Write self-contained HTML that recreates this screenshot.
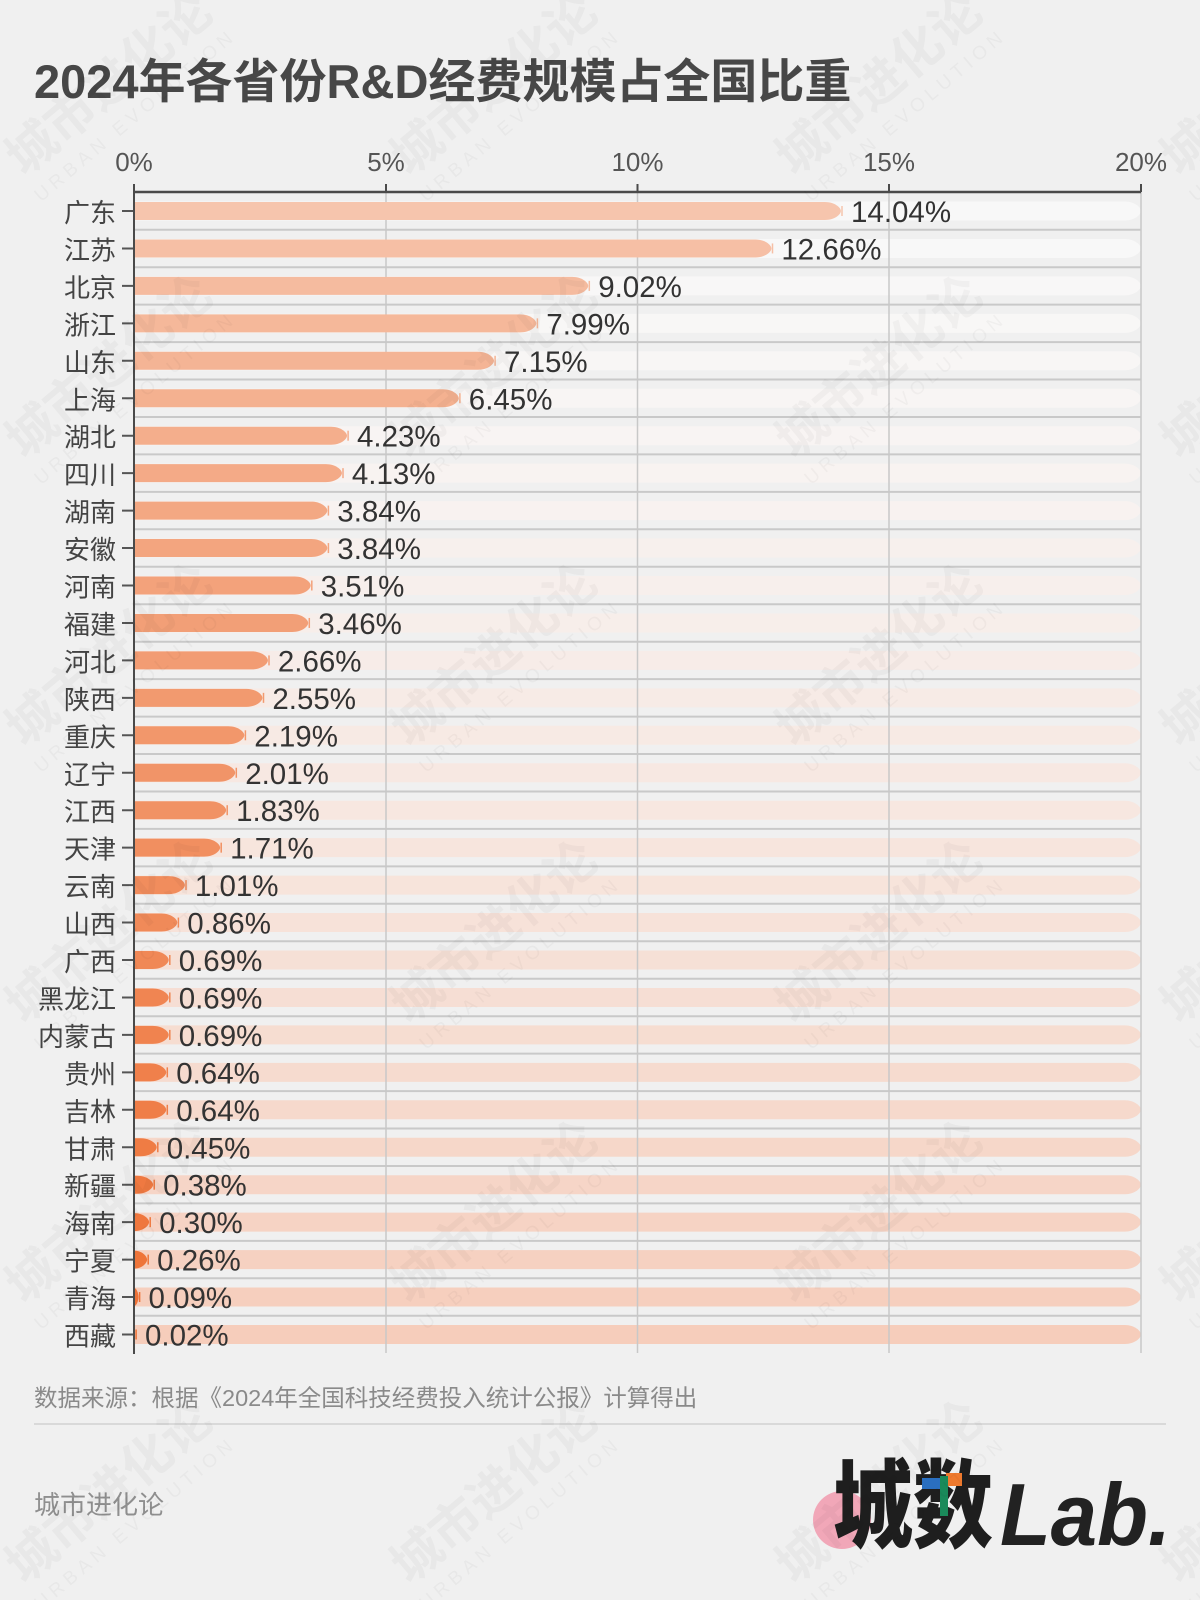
<!DOCTYPE html>
<html>
<head>
<meta charset="utf-8">
<style>
html,body{margin:0;padding:0;background:#f0f0f0;}
svg{display:block;}
</style>
</head>
<body>
<svg xmlns="http://www.w3.org/2000/svg" width="1200" height="1600" viewBox="0 0 1200 1600">
<defs>
<path id="trk" d="M134 -9.5H1125C1134.6 -9.5 1141 -3.5 1141 0C1141 3.5 1134.6 9.5 1125 9.5H134Z"/>
</defs>
<rect x="0" y="0" width="1200" height="1600" fill="#f0f0f0"/>

<!-- Title -->
<text x="34" y="98" font-family="Liberation Sans, Noto Sans CJK SC, sans-serif" font-size="47" font-weight="700" fill="#474747">2024年各省份R&amp;D经费规模占全国比重</text>

<!-- Tick labels -->
<g font-family="Liberation Sans, sans-serif" font-size="26" fill="#555" text-anchor="middle">
<text x="134" y="171">0%</text>
<text x="386" y="171">5%</text>
<text x="637.5" y="171">10%</text>
<text x="889" y="171">15%</text>
<text x="1141" y="171">20%</text>
</g>

<g transform="translate(0,1)">
<!-- Tracks -->
<use href="#trk" transform="translate(0,210)" fill="#f8f8f8"/>
<use href="#trk" transform="translate(0,247.45)" fill="#f8f8f8"/>
<use href="#trk" transform="translate(0,284.9)" fill="#f8f7f7"/>
<use href="#trk" transform="translate(0,322.35)" fill="#f8f7f6"/>
<use href="#trk" transform="translate(0,359.8)" fill="#f8f6f5"/>
<use href="#trk" transform="translate(0,397.25)" fill="#f8f5f4"/>
<use href="#trk" transform="translate(0,434.7)" fill="#f8f4f3"/>
<use href="#trk" transform="translate(0,472.15)" fill="#f8f3f1"/>
<use href="#trk" transform="translate(0,509.6)" fill="#f8f2f0"/>
<use href="#trk" transform="translate(0,547.05)" fill="#f7f0ed"/>
<use href="#trk" transform="translate(0,584.5)" fill="#f7efec"/>
<use href="#trk" transform="translate(0,621.95)" fill="#f7eeea"/>
<use href="#trk" transform="translate(0,659.4)" fill="#f7ece8"/>
<use href="#trk" transform="translate(0,696.85)" fill="#f7ebe6"/>
<use href="#trk" transform="translate(0,734.3)" fill="#f7eae4"/>
<use href="#trk" transform="translate(0,771.75)" fill="#f7e8e2"/>
<use href="#trk" transform="translate(0,809.2)" fill="#f7e7e0"/>
<use href="#trk" transform="translate(0,846.65)" fill="#f7e5dd"/>
<use href="#trk" transform="translate(0,884.1)" fill="#f7e4db"/>
<use href="#trk" transform="translate(0,921.55)" fill="#f7e2d9"/>
<use href="#trk" transform="translate(0,959)" fill="#f6e0d6"/>
<use href="#trk" transform="translate(0,996.45)" fill="#f6ded4"/>
<use href="#trk" transform="translate(0,1033.9)" fill="#f6ddd1"/>
<use href="#trk" transform="translate(0,1071.35)" fill="#f6dbcf"/>
<use href="#trk" transform="translate(0,1108.8)" fill="#f6d9cc"/>
<use href="#trk" transform="translate(0,1146.25)" fill="#f6d7c9"/>
<use href="#trk" transform="translate(0,1183.7)" fill="#f6d5c7"/>
<use href="#trk" transform="translate(0,1221.15)" fill="#f6d3c4"/>
<use href="#trk" transform="translate(0,1258.6)" fill="#f6d1c1"/>
<use href="#trk" transform="translate(0,1296.05)" fill="#f6cfbe"/>
<use href="#trk" transform="translate(0,1333.5)" fill="#f6cdbb"/>

<!-- Separators -->
<path d="M134 228.7H1141M134 266.2H1141M134 303.6H1141M134 341.1H1141M134 378.5H1141M134 416H1141M134 453.4H1141M134 490.9H1141M134 528.3H1141M134 565.8H1141M134 603.2H1141M134 640.7H1141M134 678.1H1141M134 715.6H1141M134 753H1141M134 790.5H1141M134 827.9H1141M134 865.4H1141M134 902.8H1141M134 940.3H1141M134 977.7H1141M134 1015.2H1141M134 1052.6H1141M134 1090.1H1141M134 1127.5H1141M134 1165H1141M134 1202.4H1141M134 1239.9H1141M134 1277.3H1141M134 1314.8H1141" stroke="#c9c9c9" stroke-width="2" fill="none"/>
</g>

<!-- Vertical gridlines -->
<path d="M386 192V1353M637.5 192V1353M889 192V1353M1141 192V1353" stroke="#c8c8c8" stroke-width="1.5" fill="none"/>

<g transform="translate(0,1)">
<!-- Bars -->
<g transform="translate(0,210)" fill="#f6c5ad" stroke="#f6c5ad"><path stroke="none" d="M134 -9H824.9C834.5 -9 840.9 -3.5 840.9 0C840.9 3.5 834.5 9 824.9 9H134Z"/><line x1="842" y1="-5" x2="842" y2="5" stroke-width="1.5"/></g>
<g transform="translate(0,247.45)" fill="#f6bfa5" stroke="#f6bfa5"><path stroke="none" d="M134 -9H755.4C765 -9 771.4 -3.5 771.4 0C771.4 3.5 765 9 755.4 9H134Z"/><line x1="772.5" y1="-5" x2="772.5" y2="5" stroke-width="1.5"/></g>
<g transform="translate(0,284.9)" fill="#f5bb9f" stroke="#f5bb9f"><path stroke="none" d="M134 -9H572.2C581.8 -9 588.2 -3.5 588.2 0C588.2 3.5 581.8 9 572.2 9H134Z"/><line x1="589.3" y1="-5" x2="589.3" y2="5" stroke-width="1.5"/></g>
<g transform="translate(0,322.35)" fill="#f5b89a" stroke="#f5b89a"><path stroke="none" d="M134 -9H520.3C529.9 -9 536.3 -3.5 536.3 0C536.3 3.5 529.9 9 520.3 9H134Z"/><line x1="537.4" y1="-5" x2="537.4" y2="5" stroke-width="1.5"/></g>
<g transform="translate(0,359.8)" fill="#f4b495" stroke="#f4b495"><path stroke="none" d="M134 -9H478C487.6 -9 494 -3.5 494 0C494 3.5 487.6 9 478 9H134Z"/><line x1="495.1" y1="-5" x2="495.1" y2="5" stroke-width="1.5"/></g>
<g transform="translate(0,397.25)" fill="#f4b190" stroke="#f4b190"><path stroke="none" d="M134 -9H442.8C452.4 -9 458.8 -3.5 458.8 0C458.8 3.5 452.4 9 442.8 9H134Z"/><line x1="459.9" y1="-5" x2="459.9" y2="5" stroke-width="1.5"/></g>
<g transform="translate(0,434.7)" fill="#f4ae8c" stroke="#f4ae8c"><path stroke="none" d="M134 -9H331C340.6 -9 347 -3.5 347 0C347 3.5 340.6 9 331 9H134Z"/><line x1="348.1" y1="-5" x2="348.1" y2="5" stroke-width="1.5"/></g>
<g transform="translate(0,472.15)" fill="#f4aa87" stroke="#f4aa87"><path stroke="none" d="M134 -9H325.9C335.5 -9 341.9 -3.5 341.9 0C341.9 3.5 335.5 9 325.9 9H134Z"/><line x1="343" y1="-5" x2="343" y2="5" stroke-width="1.5"/></g>
<g transform="translate(0,509.6)" fill="#f3a883" stroke="#f3a883"><path stroke="none" d="M134 -9H311.3C320.9 -9 327.3 -3.5 327.3 0C327.3 3.5 320.9 9 311.3 9H134Z"/><line x1="328.4" y1="-5" x2="328.4" y2="5" stroke-width="1.5"/></g>
<g transform="translate(0,547.05)" fill="#f3a57f" stroke="#f3a57f"><path stroke="none" d="M134 -9H311.3C320.9 -9 327.3 -3.5 327.3 0C327.3 3.5 320.9 9 311.3 9H134Z"/><line x1="328.4" y1="-5" x2="328.4" y2="5" stroke-width="1.5"/></g>
<g transform="translate(0,584.5)" fill="#f3a27b" stroke="#f3a27b"><path stroke="none" d="M134 -9H294.7C304.3 -9 310.7 -3.5 310.7 0C310.7 3.5 304.3 9 294.7 9H134Z"/><line x1="311.8" y1="-5" x2="311.8" y2="5" stroke-width="1.5"/></g>
<g transform="translate(0,621.95)" fill="#f29f77" stroke="#f29f77"><path stroke="none" d="M134 -9H292.2C301.8 -9 308.2 -3.5 308.2 0C308.2 3.5 301.8 9 292.2 9H134Z"/><line x1="309.3" y1="-5" x2="309.3" y2="5" stroke-width="1.5"/></g>
<g transform="translate(0,659.4)" fill="#f29c73" stroke="#f29c73"><path stroke="none" d="M134 -9H251.9C261.5 -9 267.9 -3.5 267.9 0C267.9 3.5 261.5 9 251.9 9H134Z"/><line x1="269" y1="-5" x2="269" y2="5" stroke-width="1.5"/></g>
<g transform="translate(0,696.85)" fill="#f29a6f" stroke="#f29a6f"><path stroke="none" d="M134 -9H246.4C256 -9 262.4 -3.5 262.4 0C262.4 3.5 256 9 246.4 9H134Z"/><line x1="263.5" y1="-5" x2="263.5" y2="5" stroke-width="1.5"/></g>
<g transform="translate(0,734.3)" fill="#f2976b" stroke="#f2976b"><path stroke="none" d="M134 -9H228.3C237.9 -9 244.3 -3.5 244.3 0C244.3 3.5 237.9 9 228.3 9H134Z"/><line x1="245.4" y1="-5" x2="245.4" y2="5" stroke-width="1.5"/></g>
<g transform="translate(0,771.75)" fill="#f19468" stroke="#f19468"><path stroke="none" d="M134 -9H219.2C228.8 -9 235.2 -3.5 235.2 0C235.2 3.5 228.8 9 219.2 9H134Z"/><line x1="236.3" y1="-5" x2="236.3" y2="5" stroke-width="1.5"/></g>
<g transform="translate(0,809.2)" fill="#f19264" stroke="#f19264"><path stroke="none" d="M134 -9H210.1C219.7 -9 226.1 -3.5 226.1 0C226.1 3.5 219.7 9 210.1 9H134Z"/><line x1="227.2" y1="-5" x2="227.2" y2="5" stroke-width="1.5"/></g>
<g transform="translate(0,846.65)" fill="#f18f60" stroke="#f18f60"><path stroke="none" d="M134 -9H204.1C213.7 -9 220.1 -3.5 220.1 0C220.1 3.5 213.7 9 204.1 9H134Z"/><line x1="221.2" y1="-5" x2="221.2" y2="5" stroke-width="1.5"/></g>
<g transform="translate(0,884.1)" fill="#f18d5d" stroke="#f18d5d"><path stroke="none" d="M134 -9H168.9C178.5 -9 184.9 -3.5 184.9 0C184.9 3.5 178.5 9 168.9 9H134Z"/><line x1="186" y1="-5" x2="186" y2="5" stroke-width="1.5"/></g>
<g transform="translate(0,921.55)" fill="#f08a59" stroke="#f08a59"><path stroke="none" d="M134 -9H161.3C170.9 -9 177.3 -3.5 177.3 0C177.3 3.5 170.9 9 161.3 9H134Z"/><line x1="178.4" y1="-5" x2="178.4" y2="5" stroke-width="1.5"/></g>
<g transform="translate(0,959)" fill="#f08856" stroke="#f08856"><path stroke="none" d="M134 -9H152.7C162.3 -9 168.7 -3.5 168.7 0C168.7 3.5 162.3 9 152.7 9H134Z"/><line x1="169.8" y1="-5" x2="169.8" y2="5" stroke-width="1.5"/></g>
<g transform="translate(0,996.45)" fill="#f08552" stroke="#f08552"><path stroke="none" d="M134 -9H152.7C162.3 -9 168.7 -3.5 168.7 0C168.7 3.5 162.3 9 152.7 9H134Z"/><line x1="169.8" y1="-5" x2="169.8" y2="5" stroke-width="1.5"/></g>
<g transform="translate(0,1033.9)" fill="#f0834f" stroke="#f0834f"><path stroke="none" d="M134 -9H152.7C162.3 -9 168.7 -3.5 168.7 0C168.7 3.5 162.3 9 152.7 9H134Z"/><line x1="169.8" y1="-5" x2="169.8" y2="5" stroke-width="1.5"/></g>
<g transform="translate(0,1071.35)" fill="#f0804b" stroke="#f0804b"><path stroke="none" d="M134 -9H150.2C159.8 -9 166.2 -3.5 166.2 0C166.2 3.5 159.8 9 150.2 9H134Z"/><line x1="167.3" y1="-5" x2="167.3" y2="5" stroke-width="1.5"/></g>
<g transform="translate(0,1108.8)" fill="#ef7e48" stroke="#ef7e48"><path stroke="none" d="M134 -9H150.2C159.8 -9 166.2 -3.5 166.2 0C166.2 3.5 159.8 9 150.2 9H134Z"/><line x1="167.3" y1="-5" x2="167.3" y2="5" stroke-width="1.5"/></g>
<g transform="translate(0,1146.25)" fill="#ef7c44" stroke="#ef7c44"><path stroke="none" d="M134 -9H140.7C150.3 -9 156.7 -3.5 156.7 0C156.7 3.5 150.3 9 140.7 9H134Z"/><line x1="157.8" y1="-5" x2="157.8" y2="5" stroke-width="1.5"/></g>
<g transform="translate(0,1183.7)" fill="#ef7941" stroke="#ef7941"><path stroke="none" d="M134 -9H137.1C146.7 -9 153.1 -3.5 153.1 0C153.1 3.5 146.7 9 137.1 9H134Z"/><line x1="154.2" y1="-5" x2="154.2" y2="5" stroke-width="1.5"/></g>
<g transform="translate(0,1221.15)" fill="#ef773e" stroke="#ef773e"><path stroke="none" d="M134 -9H134C143.1 -9 149.1 -3.5 149.1 0C149.1 3.5 143.1 9 134 9H134Z"/><line x1="150.2" y1="-5" x2="150.2" y2="5" stroke-width="1.5"/></g>
<g transform="translate(0,1258.6)" fill="#ee753a" stroke="#ee753a"><path stroke="none" d="M134 -9H134C141.9 -9 147.1 -3.5 147.1 0C147.1 3.5 141.9 9 134 9H134Z"/><line x1="148.2" y1="-5" x2="148.2" y2="5" stroke-width="1.5"/></g>
<g transform="translate(0,1296.05)" fill="#ee7237" stroke="#ee7237"><path stroke="none" d="M134 -9H134C136.7 -9 138.5 -3.5 138.5 0C138.5 3.5 136.7 9 134 9H134Z"/><line x1="139.6" y1="-5" x2="139.6" y2="5" stroke-width="1.5"/></g>
<g transform="translate(0,1333.5)" fill="#ee7034" stroke="#ee7034"><path stroke="none" d="M134 -9H134C134.6 -9 135 -3.5 135 0C135 3.5 134.6 9 134 9H134Z"/><line x1="136.1" y1="-5" x2="136.1" y2="5" stroke-width="1.5"/></g>

<!-- Value labels -->
<g font-family="Liberation Sans, sans-serif" font-size="29.5" fill="#333">
<text x="851" y="221">14.04%</text>
<text x="781.4" y="258.45">12.66%</text>
<text x="598.2" y="295.9">9.02%</text>
<text x="546.3" y="333.35">7.99%</text>
<text x="504" y="370.8">7.15%</text>
<text x="468.8" y="408.25">6.45%</text>
<text x="357" y="445.7">4.23%</text>
<text x="351.9" y="483.15">4.13%</text>
<text x="337.3" y="520.6">3.84%</text>
<text x="337.3" y="558.05">3.84%</text>
<text x="320.7" y="595.5">3.51%</text>
<text x="318.2" y="632.95">3.46%</text>
<text x="277.9" y="670.4">2.66%</text>
<text x="272.4" y="707.85">2.55%</text>
<text x="254.3" y="745.3">2.19%</text>
<text x="245.2" y="782.75">2.01%</text>
<text x="236.1" y="820.2">1.83%</text>
<text x="230.1" y="857.65">1.71%</text>
<text x="194.9" y="895.1">1.01%</text>
<text x="187.3" y="932.55">0.86%</text>
<text x="178.7" y="970">0.69%</text>
<text x="178.7" y="1007.45">0.69%</text>
<text x="178.7" y="1044.9">0.69%</text>
<text x="176.2" y="1082.35">0.64%</text>
<text x="176.2" y="1119.8">0.64%</text>
<text x="166.7" y="1157.25">0.45%</text>
<text x="163.1" y="1194.7">0.38%</text>
<text x="159.1" y="1232.15">0.30%</text>
<text x="157.1" y="1269.6">0.26%</text>
<text x="148.5" y="1307.05">0.09%</text>
<text x="145" y="1344.5">0.02%</text>
</g>

<!-- Province labels -->
<g font-family="Liberation Sans, Noto Sans CJK SC, sans-serif" font-size="26" fill="#444" text-anchor="end">
<text x="116" y="221">广东</text>
<text x="116" y="258.45">江苏</text>
<text x="116" y="295.9">北京</text>
<text x="116" y="333.35">浙江</text>
<text x="116" y="370.8">山东</text>
<text x="116" y="408.25">上海</text>
<text x="116" y="445.7">湖北</text>
<text x="116" y="483.15">四川</text>
<text x="116" y="520.6">湖南</text>
<text x="116" y="558.05">安徽</text>
<text x="116" y="595.5">河南</text>
<text x="116" y="632.95">福建</text>
<text x="116" y="670.4">河北</text>
<text x="116" y="707.85">陕西</text>
<text x="116" y="745.3">重庆</text>
<text x="116" y="782.75">辽宁</text>
<text x="116" y="820.2">江西</text>
<text x="116" y="857.65">天津</text>
<text x="116" y="895.1">云南</text>
<text x="116" y="932.55">山西</text>
<text x="116" y="970">广西</text>
<text x="116" y="1007.45">黑龙江</text>
<text x="116" y="1044.9">内蒙古</text>
<text x="116" y="1082.35">贵州</text>
<text x="116" y="1119.8">吉林</text>
<text x="116" y="1157.25">甘肃</text>
<text x="116" y="1194.7">新疆</text>
<text x="116" y="1232.15">海南</text>
<text x="116" y="1269.6">宁夏</text>
<text x="116" y="1307.05">青海</text>
<text x="116" y="1344.5">西藏</text>
</g>

<!-- Y ticks -->
<path d="M122 210H134M122 247.45H134M122 284.9H134M122 322.35H134M122 359.8H134M122 397.25H134M122 434.7H134M122 472.15H134M122 509.6H134M122 547.05H134M122 584.5H134M122 621.95H134M122 659.4H134M122 696.85H134M122 734.3H134M122 771.75H134M122 809.2H134M122 846.65H134M122 884.1H134M122 921.55H134M122 959H134M122 996.45H134M122 1033.9H134M122 1071.35H134M122 1108.8H134M122 1146.25H134M122 1183.7H134M122 1221.15H134M122 1258.6H134M122 1296.05H134M122 1333.5H134" stroke="#555" stroke-width="2" fill="none"/>
</g>

<!-- Axes -->
<path d="M134 192H1141" stroke="#4a4a4a" stroke-width="2.5" fill="none"/>
<path d="M134 184V1354M386 184V192M637.5 184V192M889 184V192M1141 184V192" stroke="#4a4a4a" stroke-width="2" fill="none"/>

<!-- Footer -->
<text x="34" y="1406" font-family="Liberation Sans, Noto Sans CJK SC, sans-serif" font-size="23.5" fill="#8a8a8a">数据来源：根据《2024年全国科技经费投入统计公报》计算得出</text>
<path d="M34 1424H1166" stroke="#d9d9d9" stroke-width="2"/>
<text x="34" y="1514" font-family="Liberation Sans, Noto Sans CJK SC, sans-serif" font-size="26" fill="#8f8f8f">城市进化论</text>

<!-- Logo -->
<circle cx="842" cy="1520" r="29" fill="#f19aae" opacity="0.85"/>
<text x="833" y="1540" font-family="Noto Sans CJK SC, sans-serif" font-size="96" font-weight="900" fill="#1e1e1e" textLength="160" lengthAdjust="spacingAndGlyphs">城数</text>
<rect x="922" y="1478" width="18" height="11" fill="#2a6fc0"/>
<rect x="946" y="1473" width="16" height="13" fill="#ef7a2e"/>
<rect x="940" y="1476" width="8" height="40" fill="#1a8a5a"/>
<text x="1000" y="1545" font-family="Liberation Sans, sans-serif" font-size="88" font-weight="700" font-style="italic" fill="#222" textLength="171" lengthAdjust="spacingAndGlyphs">Lab.</text>

<!-- Watermarks -->
<g font-family="Liberation Sans, Noto Sans CJK SC, sans-serif" fill="#000" opacity="0.035" text-anchor="middle">
<g transform="translate(120,97) rotate(-40)"><text x="0" y="0" font-size="50" font-weight="700">城市进化论</text><text x="0" y="30" font-size="19" letter-spacing="5">URBAN EVOLUTION</text></g>
<g transform="translate(505,97) rotate(-40)"><text x="0" y="0" font-size="50" font-weight="700">城市进化论</text><text x="0" y="30" font-size="19" letter-spacing="5">URBAN EVOLUTION</text></g>
<g transform="translate(890,97) rotate(-40)"><text x="0" y="0" font-size="50" font-weight="700">城市进化论</text><text x="0" y="30" font-size="19" letter-spacing="5">URBAN EVOLUTION</text></g>
<g transform="translate(1275,97) rotate(-40)"><text x="0" y="0" font-size="50" font-weight="700">城市进化论</text><text x="0" y="30" font-size="19" letter-spacing="5">URBAN EVOLUTION</text></g>
<g transform="translate(120,380) rotate(-40)"><text x="0" y="0" font-size="50" font-weight="700">城市进化论</text><text x="0" y="30" font-size="19" letter-spacing="5">URBAN EVOLUTION</text></g>
<g transform="translate(505,380) rotate(-40)"><text x="0" y="0" font-size="50" font-weight="700">城市进化论</text><text x="0" y="30" font-size="19" letter-spacing="5">URBAN EVOLUTION</text></g>
<g transform="translate(890,380) rotate(-40)"><text x="0" y="0" font-size="50" font-weight="700">城市进化论</text><text x="0" y="30" font-size="19" letter-spacing="5">URBAN EVOLUTION</text></g>
<g transform="translate(1275,380) rotate(-40)"><text x="0" y="0" font-size="50" font-weight="700">城市进化论</text><text x="0" y="30" font-size="19" letter-spacing="5">URBAN EVOLUTION</text></g>
<g transform="translate(120,668) rotate(-40)"><text x="0" y="0" font-size="50" font-weight="700">城市进化论</text><text x="0" y="30" font-size="19" letter-spacing="5">URBAN EVOLUTION</text></g>
<g transform="translate(505,668) rotate(-40)"><text x="0" y="0" font-size="50" font-weight="700">城市进化论</text><text x="0" y="30" font-size="19" letter-spacing="5">URBAN EVOLUTION</text></g>
<g transform="translate(890,668) rotate(-40)"><text x="0" y="0" font-size="50" font-weight="700">城市进化论</text><text x="0" y="30" font-size="19" letter-spacing="5">URBAN EVOLUTION</text></g>
<g transform="translate(1275,668) rotate(-40)"><text x="0" y="0" font-size="50" font-weight="700">城市进化论</text><text x="0" y="30" font-size="19" letter-spacing="5">URBAN EVOLUTION</text></g>
<g transform="translate(120,945) rotate(-40)"><text x="0" y="0" font-size="50" font-weight="700">城市进化论</text><text x="0" y="30" font-size="19" letter-spacing="5">URBAN EVOLUTION</text></g>
<g transform="translate(505,945) rotate(-40)"><text x="0" y="0" font-size="50" font-weight="700">城市进化论</text><text x="0" y="30" font-size="19" letter-spacing="5">URBAN EVOLUTION</text></g>
<g transform="translate(890,945) rotate(-40)"><text x="0" y="0" font-size="50" font-weight="700">城市进化论</text><text x="0" y="30" font-size="19" letter-spacing="5">URBAN EVOLUTION</text></g>
<g transform="translate(1275,945) rotate(-40)"><text x="0" y="0" font-size="50" font-weight="700">城市进化论</text><text x="0" y="30" font-size="19" letter-spacing="5">URBAN EVOLUTION</text></g>
<g transform="translate(120,1225) rotate(-40)"><text x="0" y="0" font-size="50" font-weight="700">城市进化论</text><text x="0" y="30" font-size="19" letter-spacing="5">URBAN EVOLUTION</text></g>
<g transform="translate(505,1225) rotate(-40)"><text x="0" y="0" font-size="50" font-weight="700">城市进化论</text><text x="0" y="30" font-size="19" letter-spacing="5">URBAN EVOLUTION</text></g>
<g transform="translate(890,1225) rotate(-40)"><text x="0" y="0" font-size="50" font-weight="700">城市进化论</text><text x="0" y="30" font-size="19" letter-spacing="5">URBAN EVOLUTION</text></g>
<g transform="translate(1275,1225) rotate(-40)"><text x="0" y="0" font-size="50" font-weight="700">城市进化论</text><text x="0" y="30" font-size="19" letter-spacing="5">URBAN EVOLUTION</text></g>
<g transform="translate(120,1505) rotate(-40)"><text x="0" y="0" font-size="50" font-weight="700">城市进化论</text><text x="0" y="30" font-size="19" letter-spacing="5">URBAN EVOLUTION</text></g>
<g transform="translate(505,1505) rotate(-40)"><text x="0" y="0" font-size="50" font-weight="700">城市进化论</text><text x="0" y="30" font-size="19" letter-spacing="5">URBAN EVOLUTION</text></g>
<g transform="translate(890,1505) rotate(-40)"><text x="0" y="0" font-size="50" font-weight="700">城市进化论</text><text x="0" y="30" font-size="19" letter-spacing="5">URBAN EVOLUTION</text></g>
<g transform="translate(1275,1505) rotate(-40)"><text x="0" y="0" font-size="50" font-weight="700">城市进化论</text><text x="0" y="30" font-size="19" letter-spacing="5">URBAN EVOLUTION</text></g>
</g>
</svg>
</body>
</html>
